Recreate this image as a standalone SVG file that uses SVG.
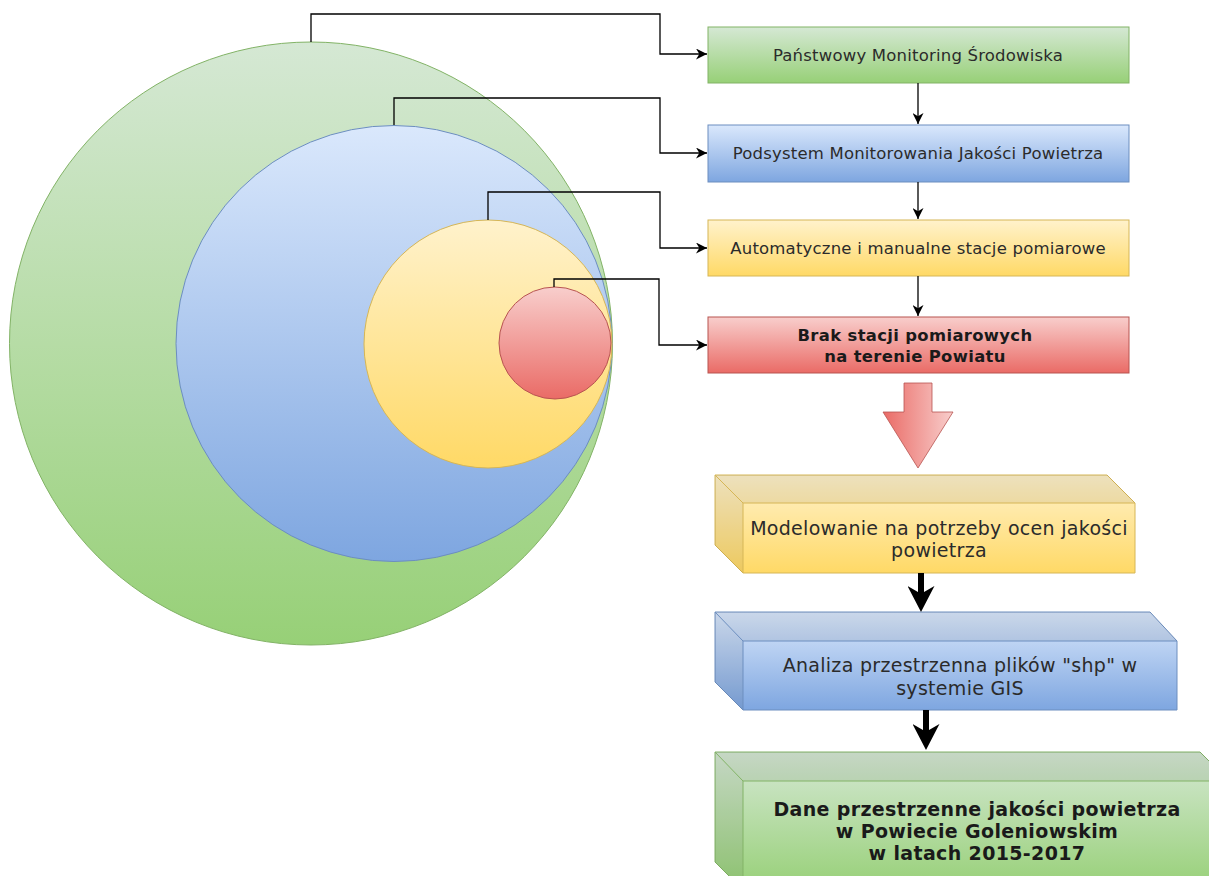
<svg xmlns="http://www.w3.org/2000/svg" width="1209" height="876" viewBox="0 0 1209 876">
<defs>
<linearGradient id="gG" x1="0" y1="0" x2="0" y2="1"><stop offset="0" stop-color="#d5e8d4"/><stop offset="1" stop-color="#97d077"/></linearGradient>
<linearGradient id="gB" x1="0" y1="0" x2="0" y2="1"><stop offset="0" stop-color="#dae8fc"/><stop offset="1" stop-color="#7ea6e0"/></linearGradient>
<linearGradient id="gY" x1="0" y1="0" x2="0" y2="1"><stop offset="0" stop-color="#fff2cc"/><stop offset="1" stop-color="#ffd966"/></linearGradient>
<linearGradient id="gR" x1="0" y1="0" x2="0" y2="1"><stop offset="0" stop-color="#f8cecc"/><stop offset="1" stop-color="#ea6b66"/></linearGradient>
<linearGradient id="gRh" x1="0" y1="0" x2="1" y2="0"><stop offset="0" stop-color="#ea6b66"/><stop offset="1" stop-color="#f8cecc"/></linearGradient>
<marker id="ah" viewBox="0 0 10 10" refX="10" refY="5" markerWidth="11" markerHeight="11" markerUnits="userSpaceOnUse" orient="auto"><path d="M0,0 L10,5 L0,10 L3,5 Z" fill="#000"/></marker>
<marker id="ahT" viewBox="0 0 10 10" refX="5.4" refY="5" markerWidth="26" markerHeight="27" markerUnits="userSpaceOnUse" orient="auto" preserveAspectRatio="none"><path d="M0,0 L10,5 L0,10 L3,5 Z" fill="#000"/></marker>
</defs>
<style>
.t{font-family:"DejaVu Sans",Verdana,sans-serif;fill:#2b2b2b;text-anchor:middle}
.s{font-size:16.5px;letter-spacing:0.2px}
.m{font-size:19px;letter-spacing:0.3px}
.b{font-weight:bold;fill:#1a1a1a}
.c{fill:none;stroke:#000;stroke-width:1.3;marker-end:url(#ah)}
.ct{fill:none;stroke:#000;stroke-width:6;marker-end:url(#ahT)}
.dk{fill:#000;opacity:0.07}
</style>
<rect width="1209" height="876" fill="#fff"/>
<g id="circles">
<circle id="c-green" cx="311" cy="343.5" r="301.5" fill="url(#gG)" stroke="#82b366"/>
<circle id="c-blue" cx="394" cy="343.5" r="218" fill="url(#gB)" stroke="#6c8ebf"/>
<circle id="c-yellow" cx="488" cy="344" r="124" fill="url(#gY)" stroke="#d6b656"/>
<circle id="c-red" cx="555" cy="343" r="56" fill="url(#gR)" stroke="#b85450"/>
</g>
<g id="n1"><rect x="708" y="27" width="421" height="56" fill="url(#gG)" stroke="#82b366"/><text class="t s" x="918" y="61">Państwowy Monitoring Środowiska</text></g>
<g id="n2"><rect x="708" y="125" width="421" height="57" fill="url(#gB)" stroke="#6c8ebf"/><text class="t s" x="918" y="159">Podsystem Monitorowania Jakości Powietrza</text></g>
<g id="n3"><rect x="708" y="220" width="421" height="56" fill="url(#gY)" stroke="#d6b656"/><text class="t s" x="918" y="254">Automatyczne i manualne stacje pomiarowe</text></g>
<g id="n4"><rect x="708" y="317" width="421" height="56" fill="url(#gR)" stroke="#b85450"/><text class="t b" x="915" y="341" font-size="16.4" letter-spacing="0.35">Brak stacji pomiarowych</text><text class="t b" x="915" y="362" font-size="16.4" letter-spacing="0.35">na terenie Powiatu</text></g>
<g id="bigarrow"><path d="M904,383 L932,383 L932,412 L953,412 L918,468 L883,412 L904,412 Z" fill="url(#gRh)" stroke="#b85450" stroke-width="0.8"/></g>
<g id="n5">
<path d="M715,475 L1107,475 L1135,503 L1135,573 L743,573 L715,545 Z" fill="url(#gY)" stroke="#d6b656"/>
<path d="M715,475 L1107,475 L1135,503 L743,503 Z" class="dk"/>
<path d="M715,475 L743,503 L743,573 L715,545 Z" class="dk"/>
<path d="M743,503 L1135,503 M743,503 L715,475 M743,503 L743,573" fill="none" stroke="#d6b656"/>
<text class="t m" x="939" y="535">Modelowanie na potrzeby ocen jakości</text><text class="t m" x="939" y="557">powietrza</text>
</g>
<g id="n6">
<path d="M715,612 L1150,612 L1177,641 L1177,710 L743,710 L715,682 Z" fill="url(#gB)" stroke="#6c8ebf"/>
<path d="M715,612 L1150,612 L1177,641 L743,641 Z" class="dk"/>
<path d="M715,612 L743,641 L743,710 L715,682 Z" class="dk"/>
<path d="M743,641 L1177,641 M743,641 L715,612 M743,641 L743,710" fill="none" stroke="#6c8ebf"/>
<text class="t m" x="960" y="672">Analiza przestrzenna plików "shp" w</text><text class="t m" x="960" y="695">systemie GIS</text>
</g>
<g id="n7">
<path d="M715,752 L1200,752 L1229,781 L1229,890 L743,890 L715,862 Z" fill="url(#gG)" stroke="#82b366"/>
<path d="M715,752 L1200,752 L1229,781 L743,781 Z" class="dk"/>
<path d="M715,752 L743,781 L743,890 L715,862 Z" class="dk"/>
<path d="M743,781 L1229,781 M743,781 L715,752 M743,781 L743,890" fill="none" stroke="#82b366"/>
<text class="t b" x="977" y="816" font-size="19" letter-spacing="0.35">Dane przestrzenne jakości powietrza</text><text class="t b" x="977" y="838" font-size="19" letter-spacing="0.35">w Powiecie Goleniowskim</text><text class="t b" x="977" y="860" font-size="19" letter-spacing="0.35">w latach 2015-2017</text>
</g>
<g id="connectors">
<path class="c" d="M311,42 V14 H660 V54 H707"/>
<path class="c" d="M394,125 V98 H660 V153 H707"/>
<path class="c" d="M488,220 V192 H660 V248 H707"/>
<path class="c" d="M554,287 V279 H659 V345 H707"/>
<path class="c" d="M918,83 V124"/>
<path class="c" d="M918,182 V219"/>
<path class="c" d="M918,276 V316"/>
<path class="ct" d="M921,573 V600"/>
<path class="ct" d="M926,710 V738"/>
</g>
</svg>
